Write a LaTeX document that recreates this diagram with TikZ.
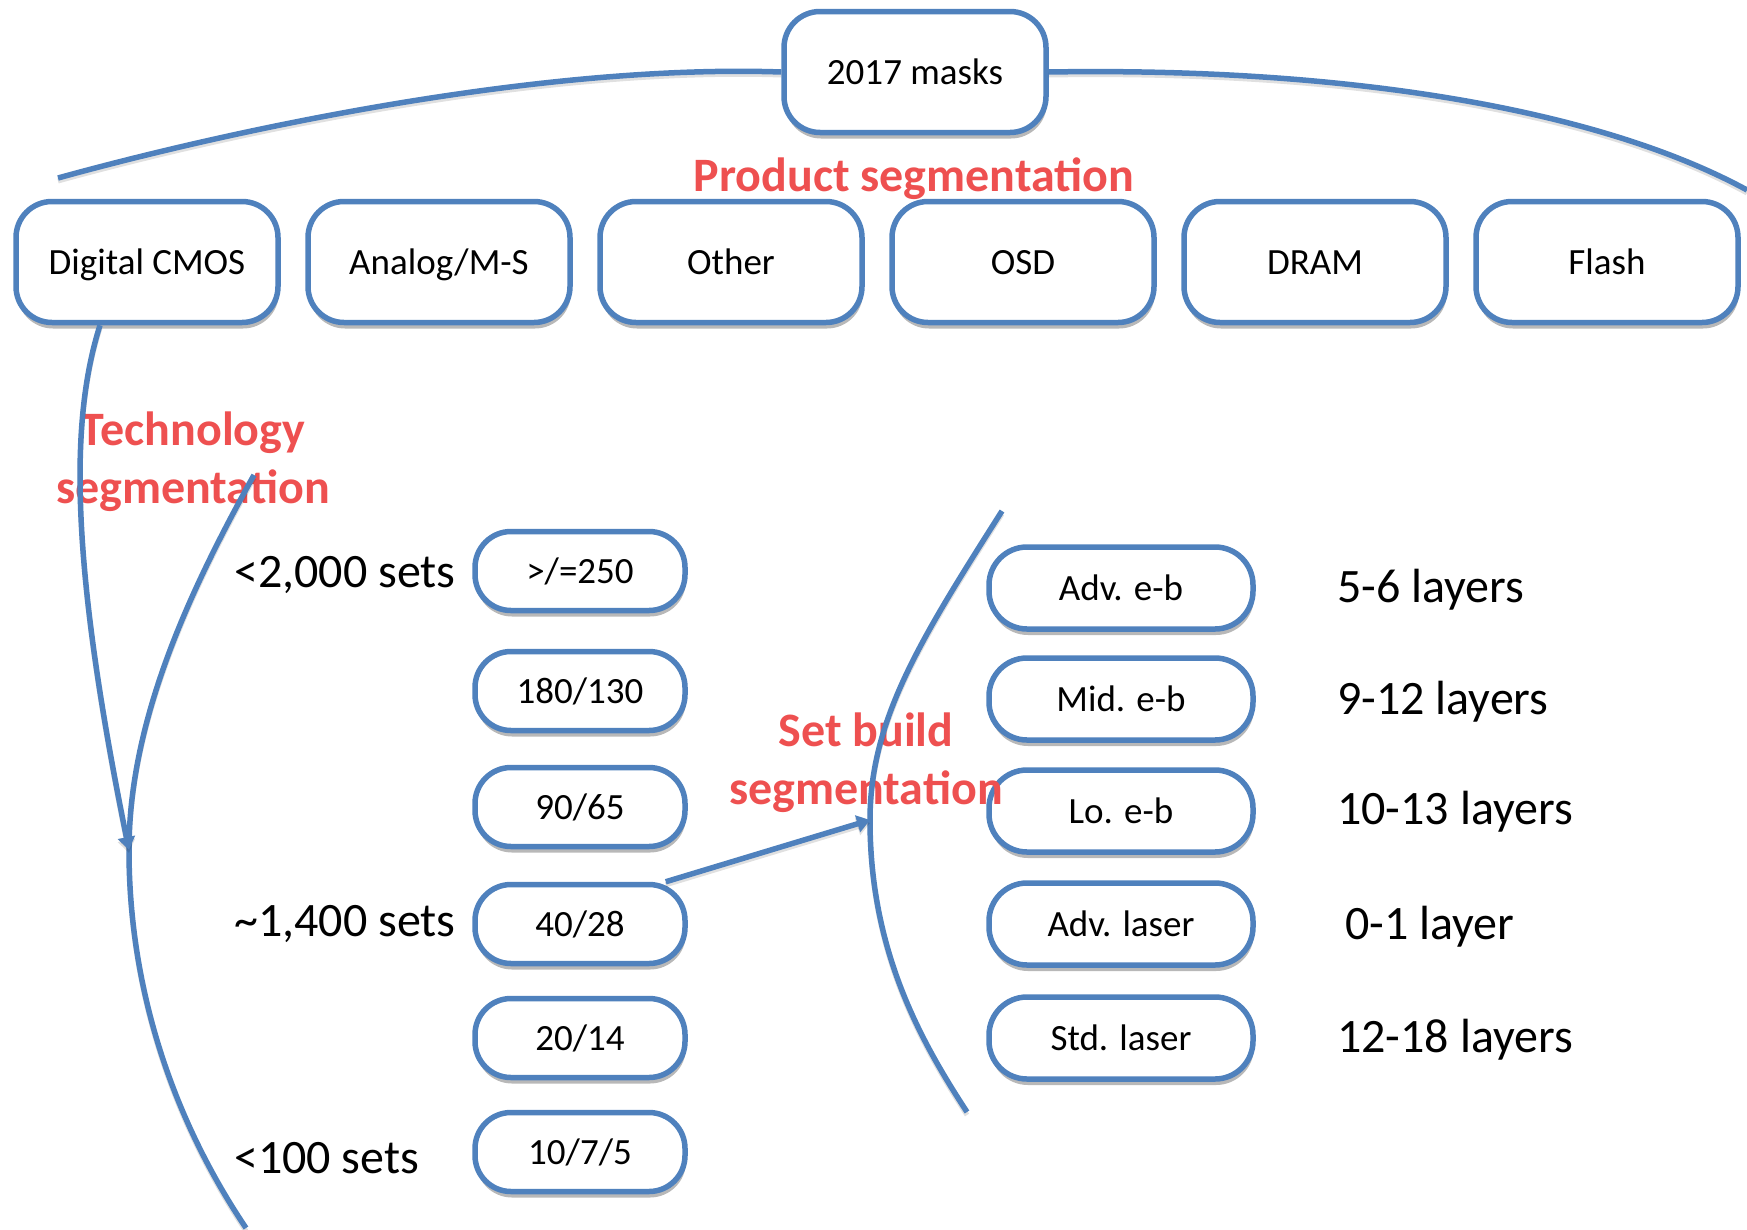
\documentclass[tikz,border=0pt]{standalone}
\usepackage{fontspec}
\setmainfont{Carlito}
\usetikzlibrary{arrows.meta,shadows}
\definecolor{obl}{RGB}{79,129,189}
\definecolor{ored}{RGB}{238,80,80}
\begin{document}
\begin{tikzpicture}[x=1pt,y=-1pt,
  box/.style={draw=obl, line width=5.5pt, fill=white, rounded corners=36pt,
    minimum width=262pt, minimum height=121pt, inner sep=0pt,
    text height=27pt, text depth=2pt,
    font=\fontsize{37}{44}\selectfont,
    drop shadow={shadow xshift=1pt, shadow yshift=-6pt, opacity=0.28, fill=black}},
  tbox/.style={box, minimum width=210pt, minimum height=79pt, rounded corners=36pt},
  bbox/.style={box, minimum width=264pt, minimum height=82pt, rounded corners=38pt},
  lbl/.style={font=\fontsize{48}{58}\selectfont, anchor=west, inner sep=0pt},
  seg/.style={text=ored, font=\bfseries\fontsize{48}{58}\selectfont, align=center, inner sep=0pt},
  conn/.style={draw=obl, line width=5.5pt,
    preaction={draw=black, opacity=0.12, line width=5pt, transform canvas={yshift=-3pt}}},
  arr/.style={conn, -{Triangle[length=13pt,width=17pt]}}
]
\useasboundingbox (0,0) rectangle (1747,1229);

% top level
\node[box] (top) at (915,72) {2017 masks};
\node[box] (dcmos) at (147,262) {Digital CMOS};
\node[box] (analog) at (439,262) {Analog/M-S};
\node[box] (other) at (731,262) {Other};
\node[box] (osd) at (1023,262) {OSD};
\node[box] (dram) at (1315,262) {DRAM};
\node[box] (flash) at (1607,262) {Flash};

% technology nodes
\node[tbox] (t1) at (580,571) {>/=250};
\node[tbox] (t2) at (580,691) {180/130};
\node[tbox] (t3) at (580,807) {90/65};
\node[tbox] (t4) at (580,924) {40/28};
\node[tbox] (t5) at (580,1038) {20/14};
\node[tbox] (t6) at (580,1152) {10/7/5};

% set build nodes
\node[bbox] (b1) at (1121,588) {Adv. e-b};
\node[bbox] (b2) at (1121,699) {Mid. e-b};
\node[bbox] (b3) at (1121,811) {Lo. e-b};
\node[bbox] (b4) at (1121,924) {Adv. laser};
\node[bbox] (b5) at (1121,1038) {Std. laser};

% labels
\node[lbl] (l1) at (234,575) {<2,000 sets};
\node[lbl] (l2) at (234,924) {\textasciitilde1,400 sets};
\node[lbl] (l3) at (234,1158) {<100 sets};
\node[lbl] (r1) at (1337,590) {5-6 layers};
\node[lbl] (r2) at (1337,702) {9-12 layers};
\node[lbl] (r3) at (1337,812) {10-13 layers};
\node[lbl] (r4) at (1345,927) {0-1 layer};
\node[lbl] (r5) at (1337,1040) {12-18 layers};

\node[seg] (pseg) at (914,179) {Product segmentation};
\node[seg] (tseg) at (193,462) {Technology\\segmentation};
\node[seg] (sseg) at (866,763) {Set build\\segmentation};

% coordinates for the brackets
\coordinate (tl) at (58,178);
\coordinate (tr) at (1747,190);
\coordinate (ta) at (254,475);
\coordinate (tm) at (129,850);
\coordinate (tb) at (246,1228);
\coordinate (sa) at (1002,511);
\coordinate (sm) at (870,820);
\coordinate (sb) at (967,1112);

% top arc
\draw[conn] (tl) .. controls (250,125) and (550,64) .. (top.west);
\draw[conn] (top.east) .. controls (1350,67) and (1600,110) .. (tr);

% technology bracket and arrow
\draw[conn] (ta) .. controls (190,590) and (129,720) .. (tm)
  .. controls (129,1000) and (180,1130) .. (tb);
\draw[arr] ([xshift=-47pt]dcmos.south) .. controls (70,420) and (70,560) .. (tm);

% set build bracket and arrow
\draw[conn] (sa) .. controls (920,640) and (870,720) .. (sm)
  .. controls (870,950) and (920,1040) .. (sb);
\draw[arr] ([xshift=-22pt]t4.north east) -- (sm);
\end{tikzpicture}
\end{document}
